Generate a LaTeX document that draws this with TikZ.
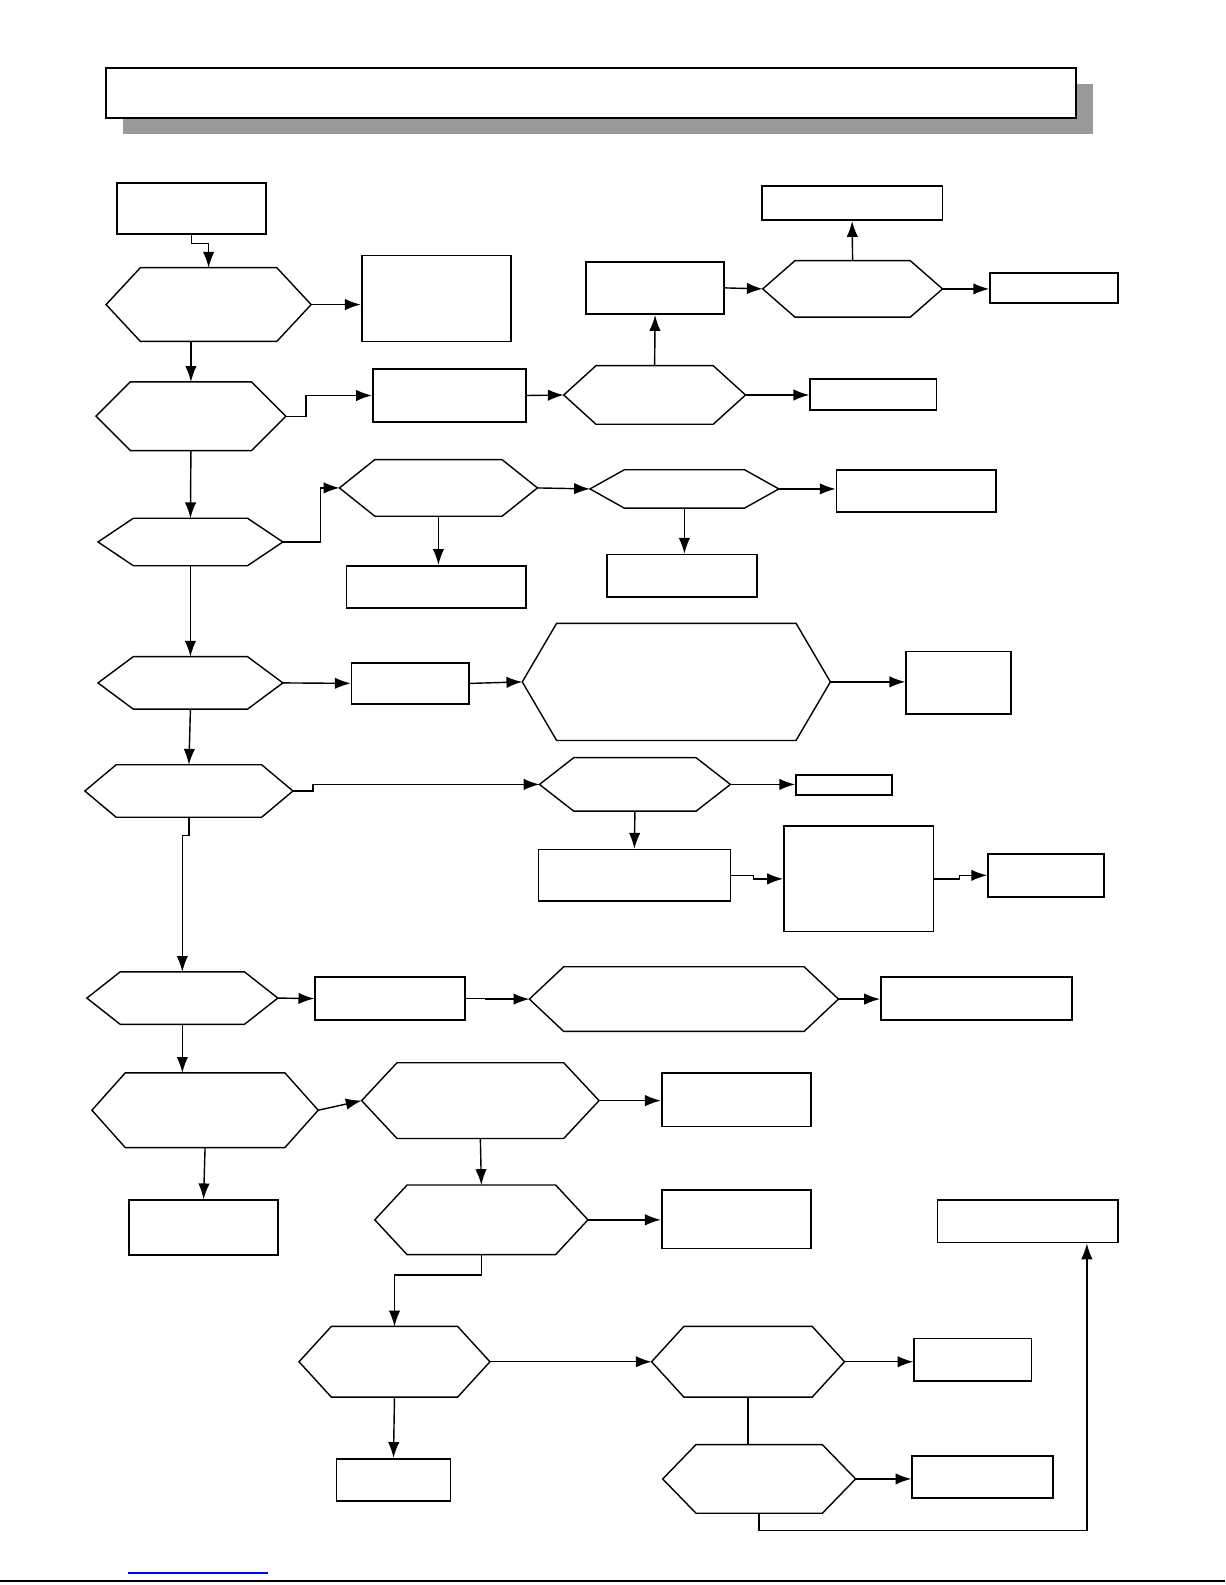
\documentclass[tikz,border=0pt]{standalone}
\usepackage{tikz}
\usetikzlibrary{calc,positioning,fit,arrows.meta}

\tikzset{
  box/.style={draw,line width=1pt,inner sep=0pt},
  hexfit/.style={inner sep=0pt,outer sep=0pt},
  hexline/.style={line width=0.8pt,line join=miter},
  >={Latex[length=9pt,width=6.5pt]},
}

\begin{document}
\begin{tikzpicture}[x=0.0202cm,y=-0.0202cm,line width=0.8pt]
            \useasboundingbox (0,0) rectangle (1213,1569);
            % title bar with its shadow
            \fill[black!40] (122,83) rectangle (1082,133);
            \node[box,fill=white,fit={(105,67) (1065,117)}] (title) {};
            % decisions
            \foreach \n/\xa/\ya/\xb/\yb/\d in {
                q1/105/265/308/338/34, q2/95/378/283/446/34,
                q3/558/362/738/420/32, q4/755/258/933/314/32,
                q5/97/513/280/560/35, q6/336/455/532/511/35,
                q7/584/465/771/503/34, q8/97/650/280/702/35,
                q9/517/617/822/733/34, q10/84/757/290/809/31,
                q11/534/750/723/803/34, q12/86/962/275/1014/33,
                q13/524/957/830/1021/34, q14/91/1062/315/1136/33,
                q15/358/1052/593/1127/35, q16/371/1173/582/1242/32,
                q17/296/1313/485/1383/32, q18/645/1313/836/1383/32,
                q19/656/1430/847/1498/33}
              {
                \node[hexfit,fit={(\xa,\ya) (\xb,\yb)}] (\n) {};
                \draw[hexline] (\n.west) -- ($(\n.north west)+(\d,0)$)
                  -- ($(\n.north east)+(-\d,0)$) -- (\n.east)
                  -- ($(\n.south east)+(-\d,0)$) -- ($(\n.south west)+(\d,0)$) -- cycle;
              }
            % boxes
            \foreach \n/\xa/\ya/\xb/\yb in {
                start/116/181/263/232, b1/358/253/506/338, b2/369/365/521/418,
                b3/802/375/927/406, b4/580/259/717/311, b5/754/184/933/218,
                b6/980/270/1107/300, b7/343/560/521/602, b8/828/465/986/507,
                b9/601/549/749/591, b10/348/656/464/697, b11/897/645/1001/707,
                b12/788/767/883/787, b13/533/841/723/892, b14/776/818/924/922,
                b15/978/845/1093/888, b16/312/967/460/1010, b17/872/967/1061/1010,
                b18/655/1062/803/1115, b19/128/1188/275/1242, b20/655/1178/803/1236,
                b21/928/1188/1107/1230, b22/333/1444/446/1486, b23/905/1325/1021/1367,
                b24/903/1441/1042/1483}
              {
                \node[box,fit={(\xa,\ya) (\xb,\yb)}] (\n) {};
              }
            % connectors
            \draw[->] (start.south) -- ++(0,8) -| (q1.north);
            \draw[->] (q1.east) -- (q1.east -| b1.west);
            \draw[->] (q1.south -| q2.north) -- (q2.north);
            \draw[->] (q2.east) -- ++(20,0) |- (b2.west);
            \draw[->] (b2.east) -- (q3.west);
            \draw[->] (q3.east) -- (q3.east -| b3.west);
            \draw[->] (q3.north) -- (b4.south);
            \draw[->] (b4.east) -- (q4.west);
            \draw[->] (q4.north) -- (b5.south);
            \draw[->] (q4.east) -- (q4.east -| b6.west);
            \draw[->] (q2.south) -- (q5.north);
            \draw[->] (q5.east) -- ++(37,0) |- (q6.west);
            \draw[->] (q6.south) -- (q6.south |- b7.north);
            \draw[->] (q6.east) -- (q7.west);
            \draw[->] (q7.east) -- (q7.east -| b8.west);
            \draw[->] (q7.south) -- (q7.south |- b9.north);
            \draw[->] (q5.south) -- (q8.north);
            \draw[->] (q8.east) -- (b10.west);
            \draw[->] (b10.east) -- (q9.west);
            \draw[->] (q9.east) -- (q9.east -| b11.west);
            \draw[->] (q8.south) -- (q10.north);
            \draw[->] (q10.east) -- ++(20,0) |- (q11.west);
            \draw[->] (q11.east) -- (q11.east -| b12.west);
            \draw[->] (q11.south) -- (b13.north);
            \draw[->] (b13.east) -- ++(22,0) |- (b14.west);
            \draw[->] (b14.east) -- ++(25,0) |- (b15.west);
            \draw[->] (q10.south) -- ++(0,18) -| (q12.north);
            \draw[->] (q12.east) -- (b16.west);
            \draw[->] (b16.east) -- ++(20,0) |- (q13.west);
            \draw[->] (q13.east) -- (q13.east -| b17.west);
            \draw[->] (q12.south) -- (q12.south |- q14.north);
            \draw[->] (q14.east) -- (q15.west);
            \draw[->] (q14.south) -- (b19.north);
            \draw[->] (q15.east) -- (q15.east -| b18.west);
            \draw[->] (q15.south) -- (q16.north);
            \draw[->] (q16.east) -- (q16.east -| b20.west);
            \draw[->] (q16.south) -- ++(0,20) -| (q17.north);
            \draw[->] (q17.south) -- (b22.north);
            \draw[->] (q17.east) -- (q18.west);
            \draw[->] (q18.east) -- (q18.east -| b23.west);
            \draw (q18.south) -- (q18.south |- q19.north);
            \draw[->] (q19.east) -- (q19.east -| b24.west);
            \draw[->] (q19.south) -- ++(0,17) -| ($(b21.south east)+(-32,0)$);
            % page foot
            \draw[blue] (127,1557) -- (265,1557);
            \draw[line width=1.2pt] (0,1565) -- (1213,1565);
          \end{tikzpicture}
\end{document}
